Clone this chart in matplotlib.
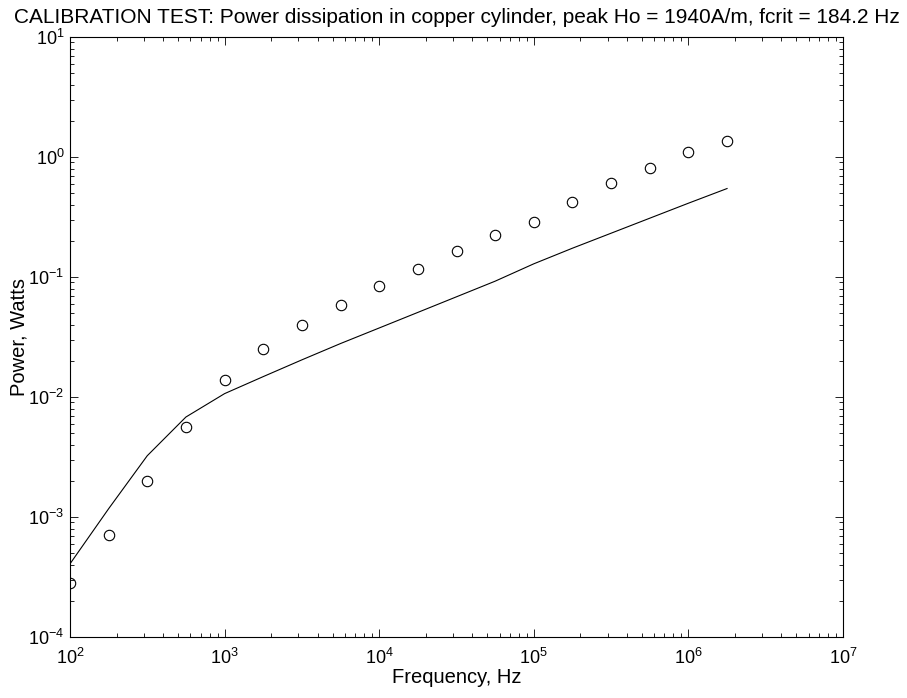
import matplotlib
matplotlib.use('Agg')
import matplotlib.pyplot as plt
from matplotlib.ticker import LogLocator, NullFormatter

plt.rcParams['font.family'] = ['Liberation Sans', 'DejaVu Sans']
plt.rcParams['mathtext.fontset'] = 'custom'
plt.rcParams['mathtext.rm'] = 'Liberation Sans'
plt.rcParams['axes.unicode_minus'] = False

# Frequencies (Hz), quarter-decade steps
freq = [100, 178, 316, 562, 1000, 1778, 3162, 5623, 10000, 17783, 31623,
        56234, 100000, 177828, 316228, 562341, 1000000, 1778279]

# measured power (circles)
power_meas = [2.82e-4, 7.1e-4, 1.98e-3, 5.6e-3, 0.0138, 0.0253, 0.040, 0.058,
              0.0836, 0.1175, 0.164, 0.224, 0.286, 0.425, 0.607, 0.805, 1.11, 1.36]

# theoretical power (line)
power_theory = [4.07e-4, 1.175e-3, 3.24e-3, 6.81e-3, 0.01067, 0.01479, 0.0204,
                0.0279, 0.0376, 0.0507, 0.0684, 0.0923, 0.1288, 0.1738, 0.2317,
                0.309, 0.412, 0.546]

fig = plt.figure(figsize=(9.07, 6.98), dpi=100)
ax = fig.add_axes([70/907, 61/698, 773/907, 600/698])

ax.loglog(freq, power_theory, color='black', linewidth=0.8)
ax.loglog(freq, power_meas, linestyle='none', marker='o', markersize=7.5,
          markerfacecolor='none', markeredgecolor='black', markeredgewidth=0.8)

ax.set_xlim(1e2, 1e7)
ax.set_ylim(1e-4, 1e1)
ax.xaxis.set_major_locator(LogLocator(base=10, numticks=10))
ax.yaxis.set_major_locator(LogLocator(base=10, numticks=10))
ax.xaxis.set_minor_locator(LogLocator(base=10, subs=range(2, 10), numticks=20))
ax.yaxis.set_minor_locator(LogLocator(base=10, subs=range(2, 10), numticks=20))
ax.xaxis.set_minor_formatter(NullFormatter())
ax.yaxis.set_minor_formatter(NullFormatter())

ax.tick_params(which='both', direction='in', top=True, right=True, width=0.6)
ax.tick_params(which='major', length=6, labelsize=13)
ax.tick_params(axis='x', which='major', pad=8)
ax.tick_params(axis='y', which='major', pad=4)
ax.tick_params(which='minor', length=3)
for s in ax.spines.values():
    s.set_linewidth(0.8)

ax.set_title('CALIBRATION TEST: Power dissipation in copper cylinder, peak Ho = 1940A/m, fcrit = 184.2 Hz',
             fontsize=15, pad=10)
ax.set_xlabel('Frequency, Hz', fontsize=14.5, labelpad=0)
ax.set_ylabel('Power, Watts', fontsize=14.5, labelpad=0)

fig.savefig('out.png', dpi=100)
